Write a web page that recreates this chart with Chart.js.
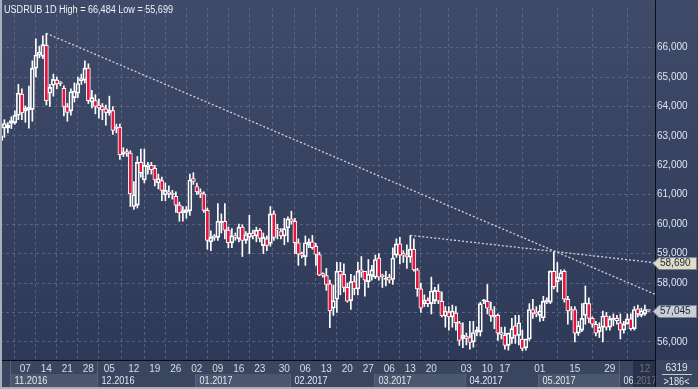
<!DOCTYPE html>
<html>
<head>
<meta charset="utf-8">
<script src="https://cdn.jsdelivr.net/npm/chart.js@4.4.1/dist/chart.umd.min.js"></script>
<style>
  html, body { margin: 0; padding: 0; background: #37425e; }
  canvas { display: block; }
</style>
</head>
<body>
<canvas id="chart" width="698" height="389"></canvas>
<script>
// USDRUB daily candles (oldest first)
const open = [62.85,63.26,63.27,63.42,63.45,63.70,64.42,63.85,63.88,63.90,65.30,65.75,65.70,66.08,64.45,64.72,64.90,64.80,64.62,64.00,
  63.85,64.30,64.45,64.88,64.90,65.30,64.15,64.20,64.05,64.00,63.92,63.78,63.86,63.25,63.30,62.38,62.45,62.42,60.60,60.65,
  62.10,61.50,61.95,62.00,61.90,61.40,61.48,61.00,61.10,61.05,60.95,60.65,60.38,60.40,60.45,61.55,61.28,61.10,61.03,60.47,
  59.40,59.55,59.55,60.05,60.10,59.80,59.37,59.60,59.50,59.90,59.45,59.55,59.70,59.60,59.80,59.27,59.50,59.35,60.35,59.85,
  59.75,59.60,59.88,60.18,60.10,59.37,59.00,58.90,59.30,59.40,59.25,58.97,58.30,58.25,57.97,57.15,57.45,58.40,58.30,57.85,
  57.40,58.05,57.80,58.45,58.40,58.05,58.25,58.20,58.85,58.25,58.12,58.20,58.12,58.95,59.33,58.98,58.95,58.88,59.15,58.45,
  57.80,57.30,57.42,57.30,57.40,57.73,57.38,56.88,57.00,56.85,56.98,56.65,56.12,56.20,56.15,56.00,56.32,56.35,57.38,57.38,
  57.10,56.85,56.90,56.32,56.22,55.88,56.12,56.55,56.22,56.10,55.80,56.10,57.10,57.00,56.90,56.82,57.35,57.35,58.40,58.05,
  58.15,58.40,57.45,57.08,57.10,56.30,56.40,56.90,57.30,56.80,56.60,56.35,56.50,56.88,56.50,56.75,56.80,56.65,56.40,56.62,
  56.78,56.45,57.12,56.90,56.95,57.05];
const high = [63.10,63.55,63.45,63.65,63.85,64.75,64.60,64.02,64.69,65.55,66.30,66.05,66.40,66.484,64.75,65.10,65.00,64.85,64.70,64.10,
  64.60,64.80,65.00,65.10,65.55,65.45,64.55,64.40,64.25,64.10,64.05,64.35,64.00,63.40,63.40,62.60,62.55,62.50,61.45,62.30,
  62.55,62.55,62.10,62.10,62.00,61.70,61.60,61.40,61.30,61.15,61.10,60.75,60.60,60.60,61.70,61.75,61.40,61.20,61.10,60.55,
  59.77,59.65,60.70,60.35,60.70,59.90,59.85,59.70,60.00,59.98,59.75,60.30,59.80,59.90,59.85,59.70,59.60,60.60,60.45,60.00,
  59.85,60.20,60.25,60.44,60.20,59.50,59.05,59.60,59.50,59.62,59.35,59.05,58.35,58.50,58.10,57.93,58.70,58.70,58.65,58.00,
  58.30,58.25,58.70,58.90,58.40,58.80,58.60,58.95,59.00,58.30,58.40,58.30,59.20,59.50,59.55,59.10,59.30,59.62,59.50,58.50,
  58.00,57.60,57.50,58.20,57.85,57.95,57.70,57.20,57.20,57.25,57.20,56.70,56.65,56.30,56.70,56.70,56.50,57.35,57.45,57.95,
  57.35,57.20,56.95,56.50,56.50,56.30,56.80,56.90,56.90,56.40,56.10,57.30,57.45,57.20,57.25,57.55,57.50,58.42,59.04,58.70,
  58.45,58.45,57.55,57.20,57.20,56.70,57.30,57.90,57.50,56.85,56.70,56.65,57.05,57.00,56.88,56.95,56.90,56.95,56.70,56.95,
  56.95,57.20,57.25,57.15,57.25,57.06];
const low = [62.72,62.95,63.10,63.25,63.40,63.55,63.55,63.46,63.26,63.50,65.00,65.65,65.62,64.05,64.00,64.35,64.60,64.70,63.68,63.50,
  63.70,64.15,64.30,64.75,64.80,64.10,63.95,63.75,63.60,63.55,63.36,63.70,63.05,63.10,62.20,62.30,62.30,60.60,60.50,60.55,
  61.60,61.40,61.70,61.70,61.30,61.20,60.80,60.80,60.90,60.85,60.40,60.10,60.10,60.20,60.30,61.35,61.00,60.90,60.40,59.15,
  59.10,59.45,59.45,59.70,59.50,59.20,59.20,59.45,59.40,58.90,59.35,59.00,59.50,59.40,59.40,59.00,59.10,59.25,59.45,59.50,
  59.50,59.30,59.40,60.00,59.00,58.60,58.85,58.60,59.20,59.15,58.60,58.25,58.20,57.75,56.48,56.90,57.00,57.60,57.70,57.35,
  57.10,57.60,57.60,58.20,57.55,57.85,58.10,58.15,58.10,57.85,57.90,58.00,57.95,58.87,58.65,58.70,58.50,58.70,58.40,57.55,
  57.00,57.20,57.20,56.95,57.30,57.30,56.85,56.50,56.40,56.50,56.40,55.88,55.80,55.90,55.75,55.82,56.20,56.20,57.30,56.95,
  56.70,56.45,56.05,56.10,55.75,55.72,55.95,55.95,55.90,55.699,55.72,56.05,56.80,56.85,56.70,56.72,57.30,57.30,57.80,57.70,
  58.10,57.35,56.60,56.75,56.00,56.22,56.35,56.60,56.65,56.50,56.20,56.15,56.00,56.40,56.40,56.55,56.60,56.10,56.30,56.60,
  56.40,56.40,56.85,56.85,56.90,57.04];
const close = [63.00,63.42,63.36,63.52,63.70,64.45,63.78,63.95,63.98,65.30,65.75,65.85,66.10,64.20,64.65,64.92,64.77,64.78,64.00,63.80,
  64.50,64.52,64.78,64.95,65.30,64.20,64.30,64.00,63.95,63.88,63.80,63.88,63.19,63.30,62.36,62.46,62.42,61.03,61.00,62.10,
  61.75,62.00,62.02,61.85,61.50,61.55,61.15,61.15,61.05,61.00,60.65,60.38,60.45,60.50,61.50,61.45,61.10,61.03,60.47,59.45,
  59.55,59.60,60.10,60.10,59.80,59.37,59.60,59.55,59.90,59.45,59.65,59.70,59.60,59.80,59.52,59.55,59.28,60.35,59.55,59.80,
  59.60,59.85,60.18,60.10,59.37,58.98,58.95,59.37,59.40,59.20,58.97,58.27,58.27,57.95,57.05,57.40,58.40,58.27,57.85,57.38,
  58.05,57.80,58.40,58.37,58.10,58.30,58.45,58.80,58.20,58.22,58.15,58.10,58.85,59.33,58.95,58.95,58.90,59.15,58.45,57.80,
  57.15,57.42,57.30,57.73,57.75,57.38,56.88,57.05,56.85,57.05,56.65,56.05,56.22,56.12,55.98,56.32,56.40,57.30,57.40,57.15,
  56.88,56.90,56.30,56.25,55.88,56.30,56.45,56.22,56.65,55.78,56.10,57.10,56.98,56.95,57.05,57.38,57.42,58.40,57.88,58.20,
  58.35,57.45,57.05,57.05,56.30,56.55,56.80,57.33,56.80,56.60,56.30,56.50,56.88,56.50,56.78,56.80,56.72,56.40,56.60,56.78,
  56.45,57.10,56.95,57.05,57.10,57.045];

// bottom axis: candle index of each labelled day, and the day numbers
const tickIdx = [7,13,19,25,31,38,44,50,56,62,68,74,81,87,93,99,105,111,117,123,133,139,144,154,164,174,184];
const tickText = ['07','14','21','28','05','12','19','26','02','09','16','23','30','06','13','20','27','06','13','20','03','10','17','01','15','29','12'];
// first candle of each month
const monthStart = [3,28,56,83,107,133,154,177];
const monthText = ['11.2016','12.2016','01.2017','02.2017','03.2017','04.2017','05.2017','06.2017'];
// price axis
const priceTicks = [56,57,58,59,60,61,62,63,64,65,66];
// the two dotted trend lines: [candle index, price]
const trendA = [[13, 66.484], [186.9, 57.62]];
const trendB = [[117, 59.62], [186.9, 58.69]];

const FONT = '"Liberation Sans", Arial, sans-serif';
const RED = '#e3153f';
const idx = open.map((_, i) => i);
const fmt = v => v.toFixed(3).replace('.', ',');

const chrome = {
  id: 'chrome',
  beforeDraw(chart) {
    const { ctx, chartArea: a, width, height } = chart;
    const x = chart.scales.x;
    ctx.save();
    const g = ctx.createLinearGradient(0, 0, 0, height);
    g.addColorStop(0, '#3f4b68');
    g.addColorStop(1, '#2d3856');
    ctx.fillStyle = g;
    ctx.fillRect(0, 0, width, height);
    ctx.fillStyle = '#3a4560';
    ctx.fillRect(0, a.bottom, width, height - a.bottom);
    for (let k = 0; k < monthStart.length; k += 2) {
      const x0 = Math.round(x.getPixelForValue(monthStart[k] - 0.5));
      const x1 = k + 1 < monthStart.length ? Math.round(x.getPixelForValue(monthStart[k + 1] - 0.5)) : a.right;
      ctx.fillStyle = '#4b566f';
      ctx.fillRect(x0, a.bottom + 14, x1 - x0, 13);
    }
    ctx.restore();
  },
  afterDraw(chart) {
    const { ctx, chartArea: a, width, height } = chart;
    const x = chart.scales.x, y = chart.scales.y;
    const tickPx = tickIdx.map(v => x.getPixelForValue(v));
    ctx.save();
    // month separators (tick row only where no day label sits) and labels
    ctx.strokeStyle = '#58637c';
    ctx.lineWidth = 1;
    ctx.font = '10px ' + FONT;
    ctx.textBaseline = 'middle';
    monthStart.forEach((m, k) => {
      const x0 = Math.round(x.getPixelForValue(m - 0.5)) + 0.5;
      const clear = tickPx.every(p => Math.abs(p - x0) > 9);
      ctx.beginPath();
      ctx.moveTo(x0, clear ? a.bottom : a.bottom + 14);
      ctx.lineTo(x0, height - 2);
      ctx.stroke();
      ctx.fillStyle = '#e3e7ef';
      ctx.fillText(monthText[k], x0 + 4, a.bottom + 21, 33);
    });
    // current-period shade
    ctx.fillStyle = 'rgba(28,36,58,0.6)';
    ctx.fillRect(633, a.bottom + 1, a.right - 633, height - a.bottom - 3);
    // axis lines
    ctx.strokeStyle = '#0b0e15';
    ctx.beginPath();
    ctx.moveTo(a.right + 0.5, 0);
    ctx.lineTo(a.right + 0.5, height);
    ctx.moveTo(0, a.bottom + 0.5);
    ctx.lineTo(a.right, a.bottom + 0.5);
    ctx.stroke();
    // corner box
    ctx.fillStyle = '#e3e7ef';
    ctx.textAlign = 'center';
    ctx.fillText('6319', (a.right + width) / 2, a.bottom + 8, 24);
    ctx.fillText('>186<', (a.right + width) / 2, a.bottom + 22, 26);
    ctx.strokeStyle = '#c9ced8';
    ctx.beginPath();
    ctx.moveTo(a.right + 7, a.bottom + 14.5);
    ctx.lineTo(width - 6, a.bottom + 14.5);
    ctx.stroke();
    // title
    ctx.textAlign = 'left';
    ctx.textBaseline = 'alphabetic';
    ctx.fillStyle = '#eef2f8';
    ctx.fillText('USDRUB 1D High = ' + fmt(Math.max(...high)) + ' Low = ' + fmt(Math.min(...low)), 4, 13, 169);
    // price tags
    const tag = (v, fill) => {
      const py = Math.round(y.getPixelForValue(v)) + 0.5;
      ctx.beginPath();
      ctx.moveTo(a.right - 2, py);
      ctx.lineTo(a.right + 4, py - 6);
      ctx.lineTo(width - 1.5, py - 6);
      ctx.lineTo(width - 1.5, py + 6);
      ctx.lineTo(a.right + 4, py + 6);
      ctx.closePath();
      ctx.fillStyle = fill;
      ctx.fill();
      ctx.strokeStyle = '#7c8391';
      ctx.stroke();
      ctx.fillStyle = '#1d2434';
      ctx.textBaseline = 'middle';
      ctx.fillText(fmt(v), a.right + 5, py, 31);
    };
    tag(trendB[1][1], '#dedcc6');
    tag(close[close.length - 1], '#c9cdd5');
    // frame
    ctx.fillStyle = '#a8b0bd';
    ctx.fillRect(0, 0, 2, height);
    ctx.fillRect(0, height - 2, width, 2);
    ctx.restore();
  }
};

new Chart(document.getElementById('chart'), {
  type: 'bar',
  data: {
    datasets: [
      {
        type: 'line',
        data: trendA.map(p => ({ x: p[0], y: p[1] })),
        borderColor: '#cfd2d8',
        borderWidth: 1.3,
        borderDash: [2, 2],
        pointRadius: 0,
        fill: false,
        order: 0
      },
      {
        type: 'line',
        data: trendB.map(p => ({ x: p[0], y: p[1] })),
        borderColor: '#cfd2d8',
        borderWidth: 1.3,
        borderDash: [2, 2],
        pointRadius: 0,
        fill: false,
        order: 0
      },
      {
        data: idx.map(i => ({ x: i, y: [open[i], close[i]] })),
        backgroundColor: idx.map(i => close[i] < open[i] ? RED : 'rgba(0,0,0,0)'),
        borderColor: '#ffffff',
        borderWidth: 1,
        borderSkipped: false,
        barThickness: 4,
        minBarLength: 1.5,
        grouped: false,
        order: 1
      },
      {
        data: idx.map(i => ({ x: i, y: [low[i], Math.min(open[i], close[i])] })),
        backgroundColor: '#ffffff',
        borderWidth: 0,
        barThickness: 1,
        grouped: false,
        order: 2
      },
      {
        data: idx.map(i => ({ x: i, y: [Math.max(open[i], close[i]), high[i]] })),
        backgroundColor: '#ffffff',
        borderWidth: 0,
        barThickness: 1,
        grouped: false,
        order: 2
      }
    ]
  },
  options: {
    responsive: false,
    animation: false,
    layout: { padding: 0 },
    plugins: { legend: { display: false }, tooltip: { enabled: false }, title: { display: false } },
    scales: {
      x: {
        type: 'linear',
        min: -0.25,
        max: 186.9,
        offset: false,
        afterBuildTicks: s => { s.ticks = tickIdx.map(v => ({ value: v })); },
        afterFit: s => { s.height = 29; },
        ticks: {
          autoSkip: false,
          maxRotation: 0,
          padding: 3,
          color: '#d6dce7',
          font: { family: FONT, size: 10 },
          callback: (v, i) => tickText[i]
        },
        grid: { color: 'rgba(108,123,154,0.6)', lineWidth: 1, drawTicks: false },
        border: { display: false, dash: [3, 3] }
      },
      y: {
        position: 'right',
        min: 55.385,
        max: 67.3455,
        afterBuildTicks: s => { s.ticks = priceTicks.map(v => ({ value: v })); },
        afterFit: s => { s.width = 43; },
        ticks: {
          padding: 2,
          color: '#dce6f3',
          font: { family: FONT, size: 10 },
          callback: v => fmt(v)
        },
        grid: { color: 'rgba(108,123,154,0.6)', lineWidth: 1, drawTicks: false },
        border: { display: false, dash: [3, 3] }
      }
    }
  },
  plugins: [chrome]
});
</script>
</body>
</html>
